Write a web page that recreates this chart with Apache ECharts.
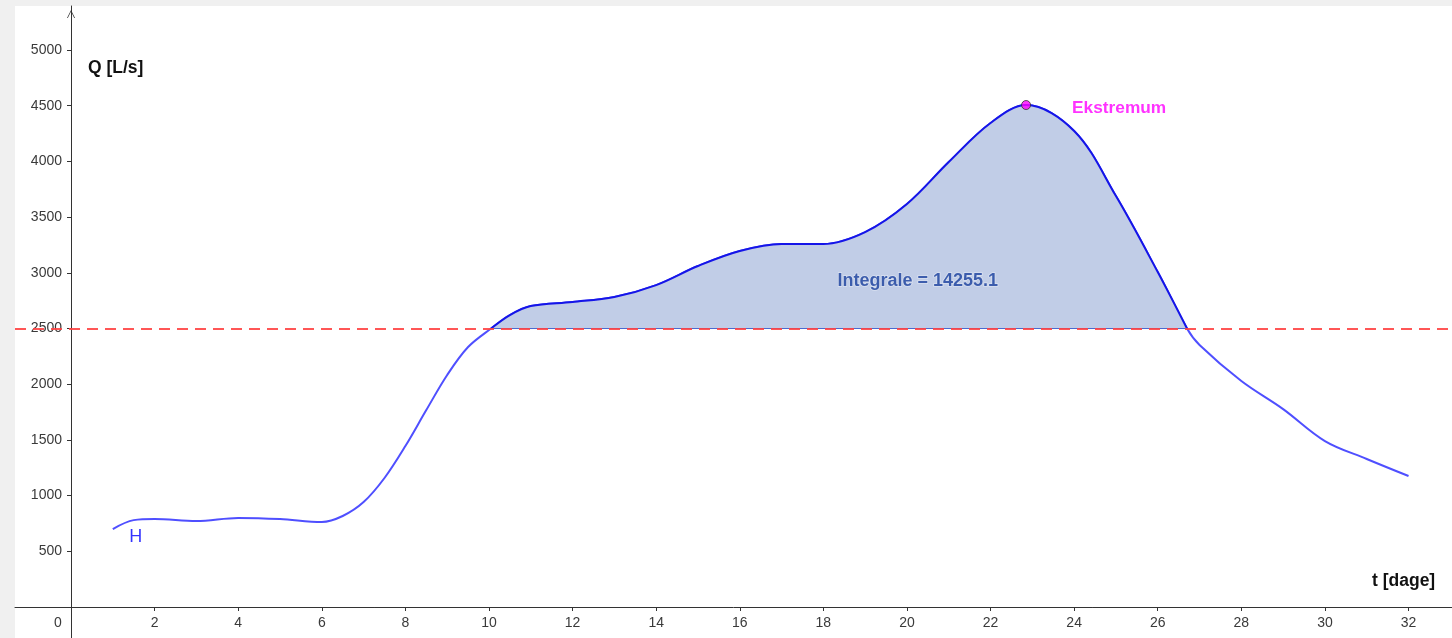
<!DOCTYPE html>
<html>
<head>
<meta charset="utf-8">
<script src="https://cdn.jsdelivr.net/npm/echarts@6/dist/echarts.min.js"></script>
<style>
html,body{margin:0;padding:0;background:#f0f0f0;}
#chart{width:1452px;height:638px;}
</style>
</head>
<body>
<div id="chart"></div>
<script>
// Curve H(t)
var tValues = [1, 1.5, 2, 3, 4, 5, 6, 6.5, 7, 7.5, 8, 8.5, 9, 9.5, 10.05, 10.5, 11, 12, 13, 14, 15, 16, 17, 18, 19, 20, 21, 22, 22.85, 24, 25, 26, 26.7, 27, 28, 29, 30, 31, 32];
var qValues = [700, 780, 790, 772, 800, 790, 763, 817, 942, 1158, 1445, 1768, 2083, 2334, 2500, 2621, 2702, 2738, 2783, 2890, 3061, 3196, 3259, 3259, 3366, 3618, 3995, 4345, 4506, 4273, 3689, 3007, 2500, 2352, 2029, 1777, 1490, 1329, 1176];
var lowerLimit = 10.05, upperLimit = 26.7;
var baseline = 2500;
var extremum = [22.85, 4506];
var integralText = 'Integrale = 14255.1';
var integralPos = [20.26, 2926];
var curveLabel = 'H';
var curveLabelPos = [1.55, 625];
var xTicks = [0, 2, 4, 6, 8, 10, 12, 14, 16, 18, 20, 22, 24, 26, 28, 30, 32];
var yTicks = [500, 1000, 1500, 2000, 2500, 3000, 3500, 4000, 4500, 5000];

var curve = tValues.map(function (t, i) { return [t, qValues[i]]; });
var region = curve.filter(function (p) { return p[0] >= lowerLimit && p[0] <= upperLimit; });

var X_MIN = -1.34, X_MAX = 33.04, Y_MIN = -278, Y_MAX = 5395;
var chart = echarts.init(document.getElementById('chart'));
var font = 'Liberation Sans, Arial, sans-serif';
chart.setOption({
  animation: false,
  backgroundColor: '#f0f0f0',
  grid: [
    { left: 15, top: 6, right: 0, bottom: 0, show: true, backgroundColor: '#fff', borderWidth: 0, containLabel: false, outerBoundsMode: 'none' },
    { left: 71, top: 6, right: 0, bottom: 31, show: false, containLabel: false, outerBoundsMode: 'none' }
  ],
  xAxis: [
    {
      gridIndex: 0, type: 'value', min: X_MIN, max: X_MAX,
      axisLine: { onZero: true, lineStyle: { color: '#333', width: 1 } },
      axisTick: { show: false }, axisLabel: { show: false }, splitLine: { show: false }
    },
    {
      gridIndex: 1, type: 'value', min: 0, max: X_MAX, position: 'bottom',
      axisLine: { show: false },
      axisTick: { show: true, customValues: xTicks.filter(function (v) { return v !== 0; }), length: 4, lineStyle: { color: '#333' } },
      axisLabel: {
        show: true, customValues: xTicks, margin: 9, color: '#3a3a3a', fontSize: 14, fontFamily: font,
        showMinLabel: true, showMaxLabel: true, hideOverlap: false,
        formatter: function (v) { return v === 0 ? '{o|0}' : String(v); },
        rich: { o: { padding: [0, 26, 0, 0], fontSize: 14, color: '#3a3a3a', fontFamily: font } }
      },
      splitLine: { show: false }
    }
  ],
  yAxis: [
    {
      gridIndex: 0, type: 'value', min: Y_MIN, max: Y_MAX,
      axisLine: { onZero: true, symbol: ['none', 'path://M0,10 L5,0 L10,10 L9,10 L5,2 L1,10 Z'], symbolSize: [10, 8], symbolOffset: [0, -8], lineStyle: { color: '#333', width: 1 } },
      axisTick: { show: false }, axisLabel: { show: false }, splitLine: { show: false }
    },
    {
      gridIndex: 1, type: 'value', min: 0, max: Y_MAX, position: 'left',
      axisLine: { show: false },
      axisTick: { show: true, customValues: yTicks, length: 4, lineStyle: { color: '#333' } },
      axisLabel: { show: true, customValues: yTicks, margin: 9, color: '#3a3a3a', fontSize: 14, fontFamily: font, hideOverlap: false, formatter: function (v) { return String(v); } },
      splitLine: { show: false }
    }
  ],
  graphic: [
    { type: 'text', left: 88, top: 59, style: { text: 'Q [L/s]', font: 'bold 17.5px ' + font, fill: '#111' } },
    { type: 'text', left: 1372, top: 572, style: { text: 't [dage]', font: 'bold 17.5px ' + font, fill: '#111' } }
  ],
  series: [
    {
      type: 'line', data: curve, smooth: 0.35, symbol: 'none', z: 3,
      lineStyle: { color: '#4f4fff', width: 2 },
      markLine: {
        silent: true, symbol: 'none', label: { show: false },
        lineStyle: { color: '#ff4444', type: [11, 7], width: 2, opacity: 0.9 },
        data: [{ yAxis: baseline }], z: 6
      }
    },
    {
      type: 'line', data: region, smooth: 0.35, symbol: 'none', z: 4,
      lineStyle: { color: '#1515e8', width: 2 },
      areaStyle: { origin: baseline, color: '#c1cde7', opacity: 1 }
    },
    {
      type: 'line', data: [[lowerLimit, baseline], [upperLimit, baseline]], symbol: 'none', z: 4,
      lineStyle: { color: '#4a6ad0', width: 1 }
    },
    {
      type: 'scatter', data: [extremum], symbolSize: 9, z: 7,
      itemStyle: { color: '#ff00ff', borderColor: '#333', borderWidth: 1 },
      label: { show: true, formatter: 'Ekstremum', position: 'right', distance: 41, offset: [0, 3], color: '#ff00ff', fontSize: 17.3, fontWeight: 'bold', fontFamily: font }
    },
    {
      type: 'scatter', data: [integralPos], symbolSize: 0, z: 7,
      label: { show: true, formatter: integralText, position: 'inside', color: '#173d9c', fontSize: 18, fontWeight: 'bold', fontFamily: font, textBorderColor: 'rgba(255,255,255,0.5)', textBorderWidth: 1.5 }
    },
    {
      type: 'scatter', data: [curveLabelPos], symbolSize: 0, z: 7,
      label: { show: true, formatter: curveLabel, position: 'inside', color: '#0000ff', fontSize: 18, fontFamily: font }
    }
  ]
});
</script>
</body>
</html>
